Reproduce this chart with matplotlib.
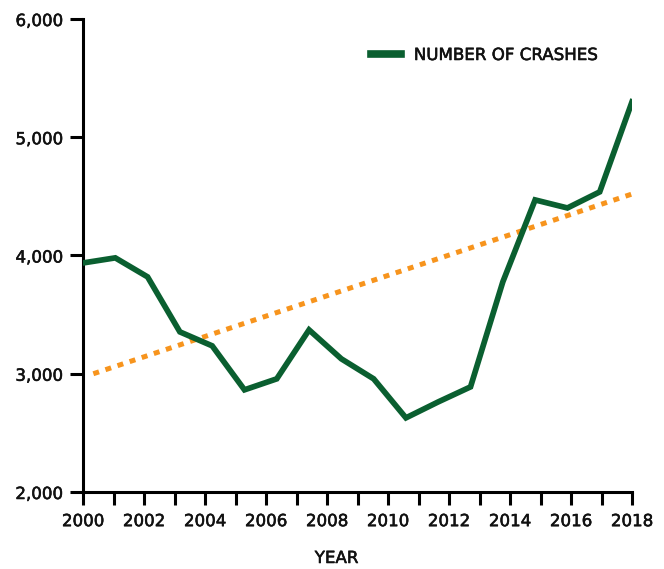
#!/usr/bin/env python3
"""Number of crashes per year with a dotted trend line."""

import numpy as np
import matplotlib
matplotlib.use("Agg")
import matplotlib.pyplot as plt
import matplotlib.patheffects as pe

#--- Data ---
crashes = [3937, 3980, 3819, 3354, 3236, 2864, 2957, 3371, 3126,
           2957, 2627, 2762, 2889, 3777, 4470, 4402, 4538, 5299]
trend_x = [0.32, 17]          # trend line ends, in point-index units
trend_y = [3000, 4520]
year_labels = ["2000", "2002", "2004", "2006", "2008",
               "2010", "2012", "2014", "2016", "2018"]
y_ticks = [2000, 3000, 4000, 5000, 6000]

green = "#0a5f30"
orange = "#f7941d"
ink = "#111111"
font = "DejaVu Sans"
fs = 12
bolder = [pe.withStroke(linewidth=0.4, foreground=ink)]

fig = plt.figure(figsize=(6.64, 5.69), dpi=100)
ax = fig.add_axes([83/664, 1 - 492/569, (632 - 83)/664, (492 - 19)/569])

idx = np.arange(len(crashes))
ax.plot(trend_x, trend_y, color=orange, lw=3.6, linestyle=(0, (1.2, 1.35)),
        dash_capstyle="butt", zorder=2)
line, = ax.plot(idx, crashes, color=green, lw=4.1, solid_joinstyle="miter",
                label="NUMBER OF CRASHES", zorder=3)

ax.set_xlim(0, len(crashes) - 1)
ax.set_ylim(2000, 6000)

# axis spines
for s in ["top", "right"]:
    ax.spines[s].set_visible(False)
for s in ["left", "bottom"]:
    ax.spines[s].set_linewidth(2.2)

ax.set_xticks(np.linspace(0, len(crashes) - 1, len(year_labels)))
ax.set_xticklabels(year_labels)
ax.set_xticks(np.linspace(0, len(crashes) - 1, 2 * len(year_labels) - 1), minor=True)
ax.set_yticks(y_ticks)
ax.set_yticklabels([f"{v:,}" for v in y_ticks])

ax.tick_params(axis="both", which="both", direction="out", width=2.2,
               length=9.5, labelsize=fs, pad=5)
for lab in ax.get_xticklabels() + ax.get_yticklabels():
    lab.set_fontfamily(font)
    lab.set_color(ink)
    lab.set_path_effects(bolder)

fig.text(336.5/664, 1 - 558/569, "YEAR", ha="center", va="center",
         fontsize=fs, family=font, color=ink, path_effects=bolder)

leg = ax.legend(handles=[line], loc="center left",
                bbox_to_anchor=(363/664, 1 - 55/569), bbox_transform=fig.transFigure,
                frameon=False, handlelength=1.75, handletextpad=0.8,
                borderpad=0, prop={"family": font, "size": fs})
for h in leg.legend_handles:
    h.set_linewidth(5.5)
for t in leg.get_texts():
    t.set_color(ink)
    t.set_path_effects(bolder)

fig.savefig("out.png", dpi=100)
